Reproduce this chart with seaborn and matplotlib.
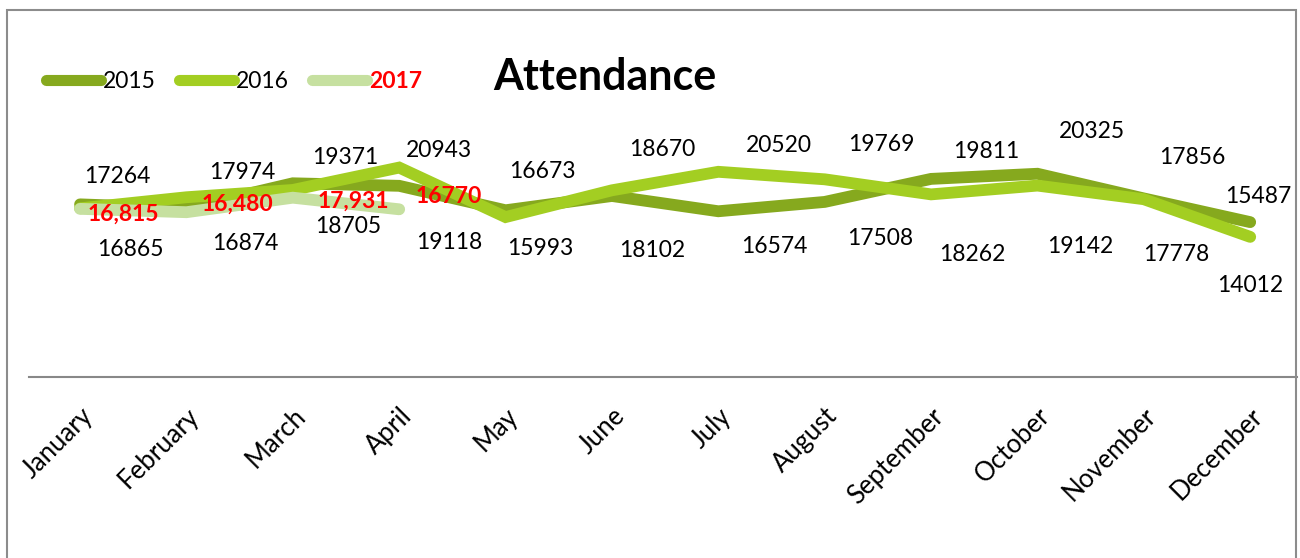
import matplotlib
matplotlib.use('Agg')
import matplotlib.pyplot as plt
import pandas as pd
import seaborn as sns
from matplotlib.patches import Rectangle

sns.set_style('white')
plt.rcParams['font.family'] = ['Lato', 'DejaVu Sans']
plt.rcParams['text.color'] = 'black'
plt.rcParams['xtick.color'] = 'black'

# Data
months = ['January', 'February', 'March', 'April', 'May', 'June',
          'July', 'August', 'September', 'October', 'November', 'December']
att_2015 = [17264, 16874, 19371, 19118, 16673, 18102,
            16574, 17508, 19811, 20325, 17856, 15487]
att_2016 = [16865, 17974, 18705, 20943, 15993, 18670,
            20520, 19769, 18262, 19142, 17778, 14012]
att_2017 = [16815, 16480, 17931, 16770]
labels_2017 = ['16,815', '16,480', '17,931', '16770']

colors = {'2015': '#86a91e', '2016': '#a3ce22', '2017': '#c6e0a0'}

# label offsets in pixels (dx right, dy down) - layout only
off_2015 = [(37, -28), (59, 35), (52, -26), (50, 57), (37, -39), (40, 55),
            (56, 35), (55, 37), (55, -27), (54, -42), (48, -41), (8, -26)]
off_2016 = [(50, 41), (56, -25), (55, 37), (40, -17), (35, 31), (50, -41),
            (61, -26), (57, -35), (41, 60), (43, 61), (32, 55), (0, 49)]
off_2017 = [(43, 5), (51, -8), (61, 4), (50, -13)]

# long table for seaborn
rows = []
for i in range(12):
    rows.append({'month': i, 'value': att_2015[i], 'year': '2015'})
    rows.append({'month': i, 'value': att_2016[i], 'year': '2016'})
for i in range(len(att_2017)):
    rows.append({'month': i, 'value': att_2017[i], 'year': '2017'})
df = pd.DataFrame(rows)

fig = plt.figure(figsize=(13, 5.58), dpi=100)
ax = fig.add_axes([29 / 1300, 1 - 377 / 558, 1268 / 1300, 340 / 558])

sns.lineplot(data=df, x='month', y='value', hue='year', palette=colors,
             hue_order=['2015', '2016', '2017'], linewidth=8.5, ax=ax,
             legend=False)
for ln in ax.get_lines():
    ln.set_solid_capstyle('round')
    ln.set_solid_joinstyle('miter')

ax.set_xlim(-0.48, 11.44)
ax.set_ylim(0, 34000)

for vals, offs in [(att_2015, off_2015), (att_2016, off_2016)]:
    for i, v in enumerate(vals):
        ax.annotate(str(v), xy=(i, v), xytext=(offs[i][0], -offs[i][1]),
                    textcoords='offset pixels', ha='center', va='center',
                    fontsize=16.5, color='black')
for i, v in enumerate(att_2017):
    ax.annotate(labels_2017[i], xy=(i, v),
                xytext=(off_2017[i][0], -off_2017[i][1]),
                textcoords='offset pixels', ha='center', va='center',
                fontsize=16.5, color='#ff0000', fontweight='bold')

ax.set_xticks(range(12))
ax.set_xticklabels(months, rotation=45, ha='right', rotation_mode='anchor',
                   fontsize=18.5, color='black')
ax.tick_params(axis='x', length=0, pad=19)
ax.set_yticks([])
ax.set_xlabel('')
ax.set_ylabel('')
for s in ['top', 'left', 'right']:
    ax.spines[s].set_visible(False)
ax.spines['bottom'].set_color('#888888')
ax.spines['bottom'].set_linewidth(1.5)

# legend
handles = [plt.Line2D([], [], color=colors[y], lw=8, solid_capstyle='round')
           for y in ['2015', '2016', '2017']]
leg = fig.legend(handles, ['2015', '2016', '2017'], ncol=3, frameon=False,
                 loc='center left', bbox_to_anchor=(46 / 1300, 1 - 82 / 558),
                 fontsize=16.5, handlelength=2.4, handletextpad=0.1,
                 columnspacing=1.0, borderpad=0, borderaxespad=0)
for t in leg.get_texts():
    t.set_color('black')
leg.get_texts()[2].set_color('#ff0000')
leg.get_texts()[2].set_fontweight('bold')

fig.text(605 / 1300, 1 - 77 / 558, 'Attendance', fontsize=31,
         fontweight='bold', ha='center', va='center', color='black')

# outer chart border
fig.patches.append(Rectangle((7 / 1300, -0.05), 1289 / 1300, 1.05 - 10 / 558,
                             transform=fig.transFigure, fill=False,
                             edgecolor='#8c8c8c', linewidth=1.5))

fig.savefig('out.png', dpi=100)
